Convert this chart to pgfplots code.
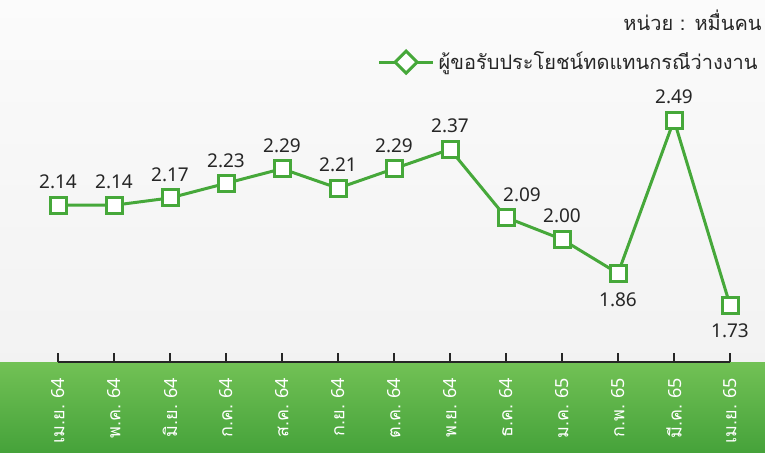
\documentclass[border=0pt]{standalone}
\usepackage{pgfplots}
\pgfplotsset{compat=1.18}
\usepackage{pgfplotstable}
\usepackage{fontspec}
\setmainfont{Noto Sans}
\newfontfamily\thai[Script=Thai]{Loma}
\definecolor{lgreen}{HTML}{46A83A}
\definecolor{bandtop}{HTML}{72C155}
\definecolor{bandbot}{HTML}{45A23A}
\definecolor{txt}{HTML}{262626}
\pgfplotstableread{
x y
0 2.14
1 2.14
2 2.17
3 2.23
4 2.29
5 2.21
6 2.29
7 2.37
8 2.09
9 2.00
10 1.86
11 2.49
12 1.73
}\datatable
\pgfplotstableread{
x y
0 2.14
1 2.14
2 2.17
3 2.23
4 2.29
5 2.21
6 2.29
7 2.37
9 2.00
11 2.49
}\abovetable
\pgfplotstableread{
x y
8 2.09
}\shifttable
\pgfplotstableread{
x y
10 1.86
12 1.73
}\belowtable
\begin{document}
\begin{tikzpicture}
\shade[top color=white!60!gray!8, bottom color=gray!10] (0,45pt) rectangle (382.5pt,226.5pt);
\shade[top color=bandtop, bottom color=bandbot] (0,0) rectangle (382.5pt,45pt);
\begin{axis}[
  at={(29pt,45.5pt)}, anchor=south west,
  scale only axis, width=336pt, height=176pt,
  xmin=0, xmax=12, ymin=1.496, ymax=2.9422,
  clip=false,
  axis x line*=bottom, axis y line=none,
  axis line style={color=txt, line width=1pt},
  xtick={0,...,12},
  xticklabels={{\thai เม.ย.} 64,{\thai พ.ค.} 64,{\thai มิ.ย.} 64,{\thai ก.ค.} 64,{\thai ส.ค.} 64,{\thai ก.ย.} 64,{\thai ต.ค.} 64,{\thai พ.ย.} 64,{\thai ธ.ค.} 64,{\thai ม.ค.} 65,{\thai ก.พ.} 65,{\thai มี.ค.} 65,{\thai เม.ย.} 65},
  xticklabel style={rotate=90, anchor=east, text=white, font=\fontsize{9}{10}\selectfont, xshift=-4.5pt},
  tick align=inside, major tick length=4.5pt,
  tick style={color=txt, line width=1pt},
  ytick=\empty,
  legend style={draw=none, fill=none, at={(1.0476,0.852)}, anchor=east, inner sep=0pt,
    font=\thai\fontsize{10}{12}\selectfont, text=txt, legend cell align=left},
  legend image code/.code={
    \draw[lgreen, line width=1.5pt] (0pt,0pt) -- (27pt,0pt);
    \draw[lgreen, line width=1.5pt, fill=white] (13.5pt,5.5pt) -- (19pt,0pt) -- (13.5pt,-5.5pt) -- (8pt,0pt) -- cycle;
  },
  lab/.style={draw=none, mark=none, forget plot,
    nodes near coords={\pgfmathprintnumber[fixed,fixed zerofill,precision=2,assume math mode=true]{\pgfplotspointmeta}},
    point meta=explicit},
]
\addplot[lgreen, line width=1.5pt, mark=square*, mark size=4pt,
  mark options={fill=white, line width=1.5pt}] table[x=x, y=y] {\datatable};
\addlegendentry{ผู้ขอรับประโยชน์ทดแทนกรณีว่างงาน}
\addplot[lab, every node near coord/.append style={anchor=south, yshift=4.5pt, text=txt, font=\fontsize{9.5}{11}\selectfont}]
  table[x=x, y=y, meta=y] {\abovetable};
\addplot[lab, every node near coord/.append style={anchor=south, yshift=4.5pt, xshift=8pt, text=txt, font=\fontsize{9.5}{11}\selectfont}]
  table[x=x, y=y, meta=y] {\shifttable};
\addplot[lab, every node near coord/.append style={anchor=north, yshift=-6pt, text=txt, font=\fontsize{9.5}{11}\selectfont}]
  table[x=x, y=y, meta=y] {\belowtable};
\node[anchor=east, text=txt, font=\thai\fontsize{10}{12}\selectfont, inner sep=0pt] at (axis description cs:1.0476,0.9716) {หน่วย : หมื่นคน};
\end{axis}
\end{tikzpicture}
\end{document}
